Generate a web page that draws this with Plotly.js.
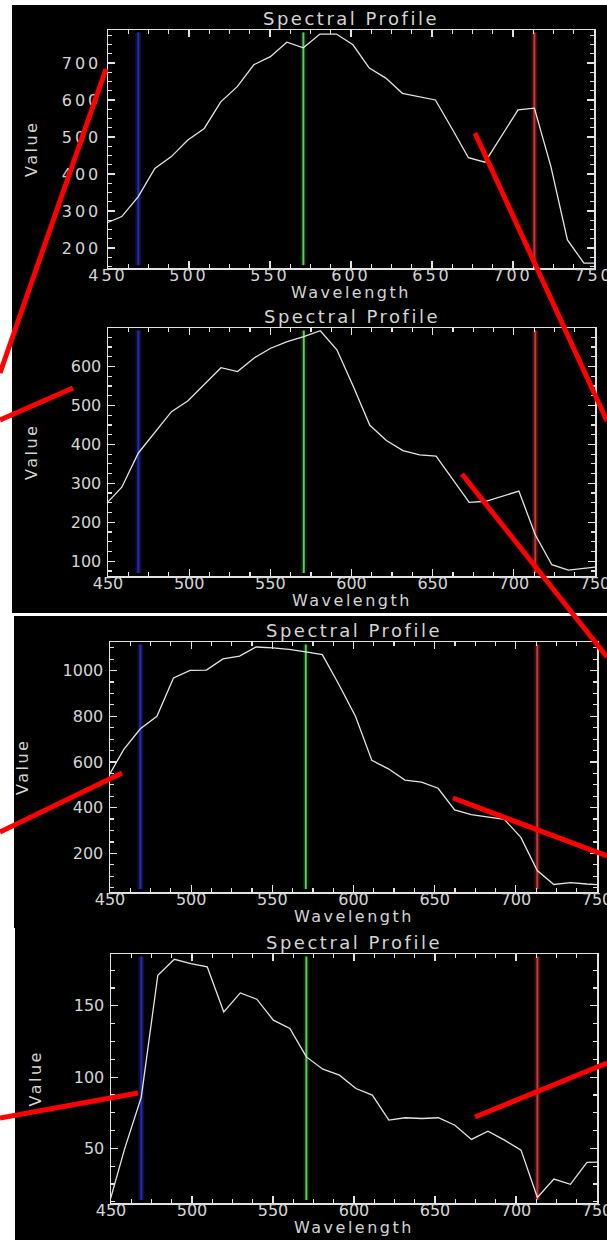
<!DOCTYPE html>
<html>
<head>
<meta charset="utf-8">
<script src="https://cdn.plot.ly/plotly-3.0.1.min.js"></script>
<style>
  html, body { margin: 0; padding: 0; background: #ffffff; }
  #chart { width: 607px; height: 1240px; }
  /* wide, airy lettering in the style of a stroke plotter font */
  .xtick text, .ytick text { letter-spacing: 3px; }
  .annotation-text { letter-spacing: 2.5px; }
</style>
</head>
<body>
<div id="chart"></div>
<script>
// Band centre wavelengths (nm) of the sampled spectrum
const wavelength = [448.3, 458.5, 468.7, 478.9, 489.1, 499.3, 509.4, 519.6, 529.8, 540.0,
                    550.2, 560.4, 570.6, 580.8, 591.0, 601.2, 611.3, 621.5, 631.7, 641.9,
                    652.1, 662.3, 672.5, 682.7, 692.9, 703.1, 713.2, 723.4, 733.6, 743.8, 754.0];

// Spectral profiles of the four sampled pixels
const profile1 = [266, 285, 339, 415, 447, 492, 523, 595, 636, 695,
                  717, 756, 741, 778, 778, 749, 686, 659, 618, 609,
                  600, 523, 444, 432, 501, 573, 578, 420, 222, 159, 159];
const profile2 = [245, 290, 378, 432, 484, 512, 554, 597, 587, 622,
                  647, 664, 677, 692, 643, 548, 449, 410, 384, 373,
                  370, 311, 251, 254, 268, 280, 168, 91, 77, 81, 87];
const profile3 = [528, 655, 745, 800, 968, 1001, 1002, 1051, 1063, 1103,
                  1099, 1093, 1082, 1070, 939, 800, 607, 570, 521, 512,
                  485, 390, 370, 358, 349, 270, 125, 64, 72, 66, 62];
const profile4 = [9, 50, 86, 171.5, 182.7, 179.7, 177.4, 145.8, 159.1, 154.7,
                  140, 134.1, 114.2, 105.6, 101.4, 92, 87.4, 69.9, 71.5, 71,
                  71.5, 66.3, 56.3, 62.1, 55.8, 48.8, 15.6, 28.5, 24.8, 40.2, 40.6];

// Display bands (blue, green, red) marked on every profile
const bandWavelengths = [468.7, 570.6, 713.2];

// ---------------------------------------------------------------------------
const W = 607, H = 1240;
const px = v => v / W;           // pixel x -> paper x
const py = v => 1 - v / H;       // pixel y -> paper y

const FONT = '"DejaVu Sans", "Liberation Sans", sans-serif';
const INK = '#d4d4d4';
const AXIS = '#e2e2e2';

// Page layout of the four panels: plot box [left, top, right, bottom] in px
const panels = [
  { series: profile1, box: [108, 30, 594, 268],  yRange: [146, 789],    dtick: 100, minor: 25,   valueX: 32 },
  { series: profile2, box: [108, 328, 595, 576], yRange: [62, 699],     dtick: 100, minor: 25,   valueX: 31 },
  { series: profile3, box: [110, 642, 597, 892], yRange: [31, 1125],    dtick: 200, minor: 50,   valueX: 22 },
  { series: profile4, box: [111, 954, 597, 1203], yRange: [11.7, 186.4], dtick: 50, minor: 12.5, valueX: 35 }
];

// Dark backing cards behind the panels: [left, top, right, bottom] px
const cards = [
  [12, 5, 607, 613],
  [14, 616, 607, 928],
  [15, 928, 607, 1240]
];

// Red call-out strokes: [[x0, y0], [x1, y1]] px
const callouts = [
  [[106, 69], [0, 373]],
  [[73, 388], [0, 420]],
  [[475, 133], [607, 421]],
  [[462, 474], [607, 657]],
  [[122, 773], [0, 832]],
  [[453, 798], [607, 856]],
  [[138, 1093], [0, 1118]],
  [[475, 1117], [607, 1063]]
];

const bandStyles = [
  { core: '#2a2ab0', glow: 'rgba(40,40,170,0.35)' },
  { core: '#5ccc5c', glow: 'rgba(70,190,70,0.15)' },
  { core: '#c23a3a', glow: 'rgba(170,40,40,0.35)' }
];

const traces = [];
const layout = {
  width: W, height: H,
  margin: { l: 0, r: 0, t: 0, b: 0 },
  paper_bgcolor: '#ffffff',
  plot_bgcolor: '#000000',
  showlegend: false,
  hovermode: false,
  shapes: [],
  annotations: []
};

cards.forEach(c => {
  layout.shapes.push({
    type: 'rect', xref: 'paper', yref: 'paper', layer: 'below',
    x0: px(c[0]), x1: px(c[2]), y0: py(c[3]), y1: py(c[1]),
    fillcolor: '#000000', line: { width: 0 }
  });
});

panels.forEach((p, i) => {
  const n = i + 1;
  const xa = n === 1 ? 'xaxis' : 'xaxis' + n;
  const ya = n === 1 ? 'yaxis' : 'yaxis' + n;
  const xr = n === 1 ? 'x' : 'x' + n;
  const yr = n === 1 ? 'y' : 'y' + n;
  const [l, t, r, b] = p.box;

  const common = {
    ticks: 'inside', ticklen: 7, tickwidth: 1.2, tickcolor: AXIS,
    showline: true, linecolor: AXIS, linewidth: 1.5, mirror: 'allticks',
    showgrid: false, zeroline: false, fixedrange: true,
    ticklabeloverflow: 'allow',
    tickfont: { family: FONT, size: 16, color: INK }
  };

  layout[xa] = Object.assign({}, common, {
    domain: [px(l), px(r)], anchor: yr,
    range: [450, 750], tickmode: 'linear', tick0: 450, dtick: 50,
    ticklabelstandoff: -8,
    minor: { ticks: 'inside', ticklen: 4, tickwidth: 1.2, tickcolor: AXIS, tick0: 450, dtick: 12.5, showgrid: false }
  });
  layout[ya] = Object.assign({}, common, {
    domain: [py(b), py(t)], anchor: xr,
    range: p.yRange, tickmode: 'linear', tick0: 0, dtick: p.dtick,
    ticklabelstandoff: 2,
    minor: { ticks: 'inside', ticklen: 4, tickwidth: 1.2, tickcolor: AXIS, tick0: 0, dtick: p.minor, showgrid: false }
  });

  traces.push({
    type: 'scatter', mode: 'lines', x: wavelength, y: p.series,
    xaxis: xr, yaxis: yr,
    line: { color: '#e4e4e4', width: 1.3 }
  });

  bandWavelengths.forEach((w, k) => {
    const s = bandStyles[k];
    layout.shapes.push({
      type: 'line', layer: 'below', xref: xr, yref: yr + ' domain',
      x0: w, x1: w, y0: 0.012, y1: 0.99, line: { color: s.glow, width: 6 }
    });
    layout.shapes.push({
      type: 'line', layer: 'below', xref: xr, yref: yr + ' domain',
      x0: w, x1: w, y0: 0.012, y1: 0.99, line: { color: s.core, width: 2 }
    });
  });

  const cx = (l + r) / 2;
  layout.annotations.push({
    text: 'Spectral Profile', xref: 'paper', yref: 'paper',
    x: px(cx), y: py(t - 12), xanchor: 'center', yanchor: 'middle', showarrow: false,
    font: { family: FONT, size: 18, color: INK }
  });
  layout.annotations.push({
    text: 'Wavelength', xref: 'paper', yref: 'paper',
    x: px(cx), y: py(b + 24), xanchor: 'center', yanchor: 'middle', showarrow: false,
    font: { family: FONT, size: 16, color: INK }
  });
  layout.annotations.push({
    text: 'Value', xref: 'paper', yref: 'paper', textangle: -90,
    x: px(p.valueX), y: py((t + b) / 2), xanchor: 'center', yanchor: 'middle', showarrow: false,
    font: { family: FONT, size: 16, color: INK }
  });
});

callouts.forEach(seg => {
  layout.shapes.push({
    type: 'line', xref: 'paper', yref: 'paper', layer: 'above',
    x0: px(seg[0][0]), y0: py(seg[0][1]), x1: px(seg[1][0]), y1: py(seg[1][1]),
    line: { color: '#ff0000', width: 5 }
  });
});

Plotly.newPlot('chart', traces, layout, { staticPlot: true, displayModeBar: false });
</script>
</body>
</html>
